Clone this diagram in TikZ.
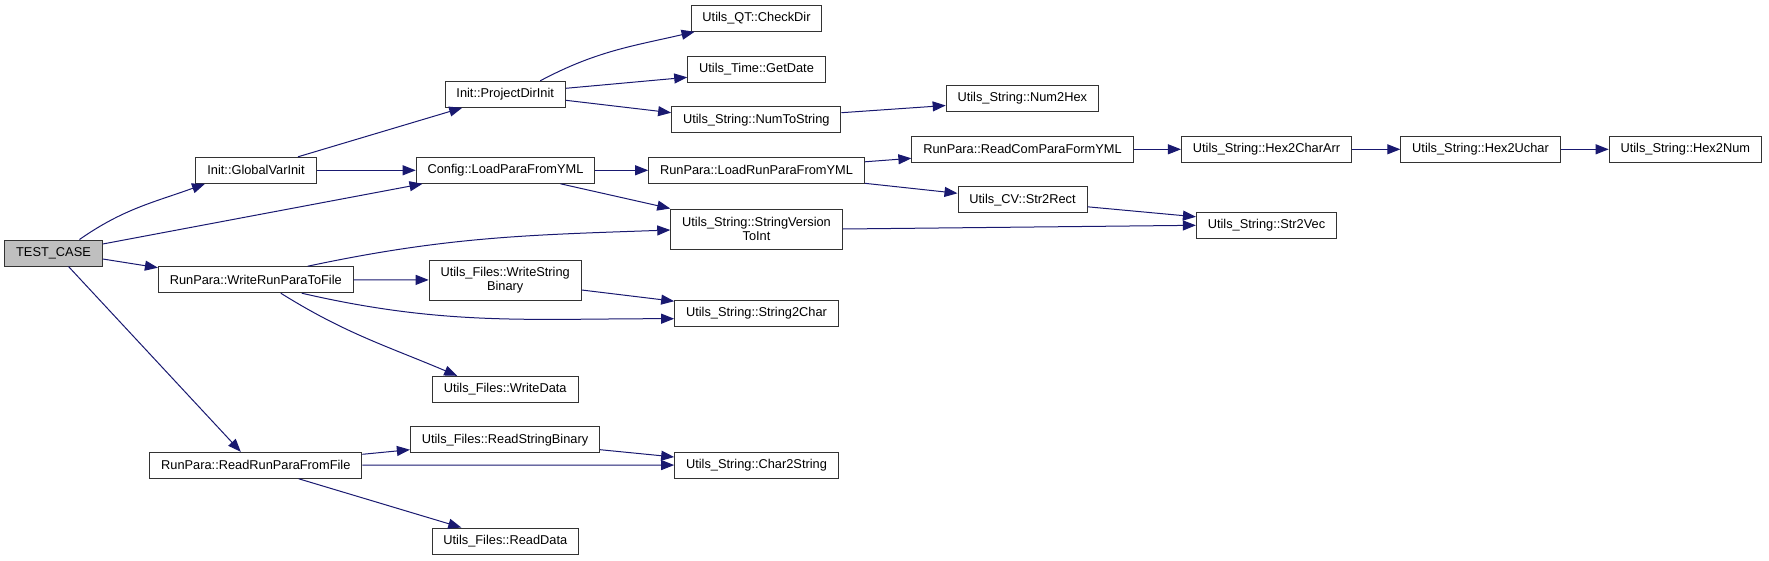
\documentclass[tikz,border=0pt]{standalone}
\usepackage{fontspec}
\setmainfont{Liberation Sans}
\usetikzlibrary{arrows.meta}
\definecolor{callblue}{HTML}{191970}
\definecolor{rootgray}{HTML}{BFBFBF}

\begin{document}
\begin{tikzpicture}[x=1pt,y=-1pt,
        fn/.style={draw=black!80, line width=1pt, fill=white, inner xsep=11.4pt, inner ysep=2pt,
            minimum height=26pt, align=center, font=\fontsize{12.8}{14.4}\selectfont},
        call/.style={draw=callblue, line width=1pt, -{Triangle[length=13pt,width=10pt]}}]
        \useasboundingbox (0,0) rectangle (1769,560);
        % root of the graph
        \node[fn, fill=rootgray] (tc) at (53.5,253) {TEST\_CASE};
        % functions, one line each
        \foreach \n/\x/\y/\t in {gvi/256/170.3/Init::GlobalVarInit, pdi/505.2/94.3/Init::ProjectDirInit,
            cfg/505.5/170.3/Config::LoadParaFromYML, wrf/255.8/279.7/RunPara::WriteRunParaToFile,
            wd/505.2/389.3/Utils\_Files::WriteData, rsb/505/439.7/Utils\_Files::ReadStringBinary,
            rrf/255.8/465.3/RunPara::ReadRunParaFromFile, rd/505.3/541/Utils\_Files::ReadData,
            chk/756.5/18.3/Utils\_QT::CheckDir, gd/756.5/69.3/Utils\_Time::GetDate,
            nts/756.3/119.7/Utils\_String::NumToString, n2h/1022.3/98.5/Utils\_String::Num2Hex,
            lrp/756.5/170.3/RunPara::LoadRunParaFromYML, rcp/1022.5/149.3/RunPara::ReadComParaFormYML,
            s2r/1022.5/199.8/Utils\_CV::Str2Rect, s2c/756.5/313.2/Utils\_String::String2Char,
            c2s/756.5/465/Utils\_String::Char2String, h2c/1266.5/149.3/Utils\_String::Hex2CharArr,
            h2u/1480.5/149.3/Utils\_String::Hex2Uchar, h2n/1685.3/149.3/Utils\_String::Hex2Num,
            s2v/1266.5/225.3/Utils\_String::Str2Vec}
        {
            \node[fn] (\n) at (\x,\y) {\t};
        }
        % two-line boxes
        \node[fn, minimum height=40pt] (wsb) at (505.2,280) {Utils\_Files::WriteString\\Binary};
        \node[fn, minimum height=40pt] (svi) at (756.5,229) {Utils\_String::StringVersion\\ToInt};

        % straight calls
        \foreach \a/\b in {gvi/cfg, cfg/lrp, rcp/h2c, h2c/h2u, h2u/h2n, wrf/wsb, rrf/c2s}
            \draw[call] (\a) -- (\b);
        \draw[call] ([xshift=26pt]tc.north) to[out=35,in=200] ([xshift=-51pt]gvi.south);
        \draw[call] ([yshift=9pt]tc.east) -- ([xshift=-83pt]cfg.south);
        \draw[call] ([yshift=-6pt]tc.east) -- ([yshift=-1.5pt]wrf.north west);
        \draw[call] ([xshift=15pt]tc.south) -- ([xshift=-15pt]rrf.north);
        \draw[call] ([xshift=42pt]gvi.north) -- ([xshift=-43pt]pdi.south);
        \draw[call] ([xshift=35pt]pdi.north) to[out=28,in=193] ([xshift=4pt]chk.south west);
        \draw[call] ([yshift=6pt]pdi.east) -- ([yshift=-8pt]gd.west);
        \draw[call] ([yshift=-6pt]pdi.east) -- ([yshift=7pt]nts.west);
        \draw[call] ([yshift=7pt]nts.east) -- ([yshift=-7pt]n2h.west);
        \draw[call] ([xshift=55pt]cfg.south) -- (svi.north west);
        \draw[call] ([yshift=8.5pt]lrp.east) -- ([yshift=-9pt]rcp.west);
        \draw[call] ([yshift=0.5pt]lrp.south east) -- ([yshift=6.5pt]s2r.west);
        \draw[call] ([yshift=-7pt]s2r.east) -- ([yshift=8.5pt]s2v.west);
        \draw[call] (svi.east) -- (s2v.west);
        \draw[call] ([xshift=52pt]wrf.north) to[out=12,in=182] ([yshift=-1pt]svi.west);
        \draw[call] ([xshift=46pt]wrf.south) to[out=-13,in=180] ([yshift=-5.5pt]s2c.west);
        \draw[call] ([xshift=25pt]wrf.south) to[out=-32,in=157] ([xshift=-48pt]wd.north);
        \draw[call] ([yshift=-10pt]wsb.east) -- ([yshift=-1.5pt]s2c.north west);
        \draw[call] ([yshift=11pt]rrf.east) -- ([yshift=-10pt]rsb.west);
        \draw[call] ([xshift=43pt]rrf.south) -- ([xshift=-44pt]rd.north);
        \draw[call] ([yshift=-10pt]rsb.east) -- ([yshift=8pt]c2s.west);
    \end{tikzpicture}
\end{document}
